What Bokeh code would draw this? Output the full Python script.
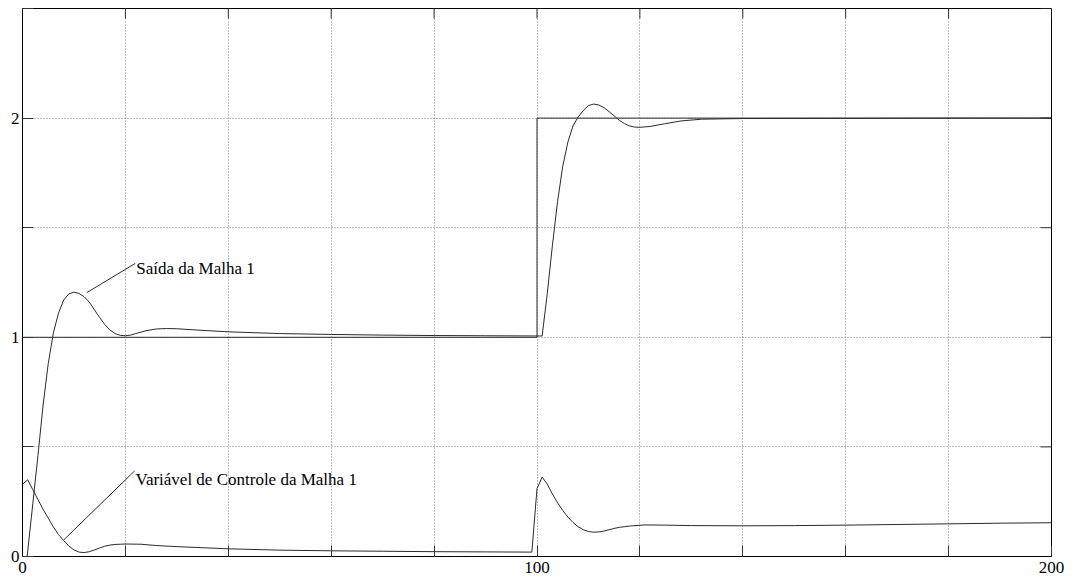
import math
from bokeh.plotting import figure
from bokeh.models import Range1d, FixedTicker
from bokeh.embed import file_html
from bokeh.resources import INLINE
from bokeh.core.properties import value

# ---------------- data ----------------
# Setpoint (reference) of loop 1
t_ref = [0, 100, 100, 200]
y_ref = [1, 1, 2, 2]

# Output of loop 1 ("Saída da Malha 1")
t_out = [0, 0.9, 2, 3, 4, 5, 6, 7, 8, 9, 10, 11, 12, 13, 14, 15, 16, 17, 18, 19, 20,
         21, 22, 24, 26, 28, 30, 34, 40, 50, 60, 70, 80, 90, 101,
         102, 103, 104, 105, 106, 107, 108, 109, 110, 111, 112, 113, 114, 115, 116,
         117, 118, 119, 120, 122, 125, 128, 132, 140, 160, 185, 200]
y_out = [0, 0, 0.24, 0.46, 0.69, 0.88, 1.02, 1.11, 1.17, 1.198, 1.206, 1.2, 1.185, 1.16,
         1.125, 1.09, 1.058, 1.033, 1.017, 1.009, 1.007,
         1.01, 1.017, 1.03, 1.038, 1.04, 1.039, 1.033, 1.025, 1.017, 1.013, 1.01, 1.008,
         1.007, 1.006,
         1.2, 1.42, 1.62, 1.78, 1.89, 1.965, 2.005, 2.035, 2.057, 2.064, 2.06, 2.048, 2.03,
         2.01, 1.99, 1.975, 1.964, 1.959, 1.958, 1.962, 1.975, 1.987, 1.995, 1.998,
         1.999, 2.0, 2.0]

# Control variable of loop 1 ("Variável de Controle da Malha 1")
t_ctl = [0, 1, 2, 3, 4, 5, 6, 7, 8, 9, 10, 11, 12, 13, 14, 15, 16, 17, 18, 20, 23, 26,
         30, 40, 50, 60, 70, 80, 90, 99,
         100, 101, 102, 103, 104, 105, 106, 107, 108, 109, 110, 111, 112, 113, 114, 115,
         116, 118, 121, 125, 130, 140, 150, 160, 170, 180, 190, 200]
y_ctl = [0.33, 0.35, 0.305, 0.26, 0.215, 0.175, 0.135, 0.1, 0.073, 0.048, 0.03, 0.02,
         0.018, 0.022, 0.03, 0.039, 0.047, 0.052, 0.055, 0.057, 0.056, 0.05,
         0.045, 0.035, 0.029, 0.026, 0.024, 0.022, 0.021, 0.02,
         0.31, 0.362, 0.33, 0.285, 0.245, 0.21, 0.18, 0.155, 0.136, 0.122, 0.114, 0.111,
         0.112, 0.116, 0.122, 0.128, 0.133, 0.139, 0.144, 0.143, 0.141, 0.14, 0.141,
         0.143, 0.146, 0.149, 0.152, 0.154]

# axis ticks and labels
x_ticks = [0, 20, 40, 60, 80, 100, 120, 140, 160, 180, 200]
x_labels = {0: "0", 100: "100", 200: "200"}
y_ticks = [0, 0.5, 1, 1.5, 2, 2.5]
y_labels = {0: "0", 1: "1", 2: "2"}

# annotations (text + pointer)
ann_text = ["Saída da Malha 1", "Variável de Controle da Malha 1"]
ann_x = [22.1, 21.96]
ann_y = [1.3125, 0.351]
ptr_x0 = [12.5, 8.03]
ptr_y0 = [1.204, 0.076]
ptr_x1 = [21.9, 21.77]
ptr_y1 = [1.337, 0.39]

X_MIN, X_MAX = 0, 200
Y_MIN, Y_MAX = 0, 2.5

# ---------------- figure ----------------
FONT = "Liberation Serif"
LINE = "#2a2a2a"
TICK = "#333333"

p = figure(frame_width=1029, frame_height=548,
           x_range=Range1d(X_MIN, X_MAX), y_range=Range1d(Y_MIN, Y_MAX),
           output_backend="svg", toolbar_location=None,
           min_border_left=22, min_border_right=19,
           min_border_top=8, min_border_bottom=20)
p.background_fill_color = "white"
p.border_fill_color = "white"
p.outline_line_color = "black"
p.outline_line_width = 1


def style_axis(ax, ticks, labels, tick_len, standoff):
    ax.ticker = FixedTicker(ticks=ticks)
    ax.major_tick_in = tick_len
    ax.major_tick_out = 0
    ax.major_tick_line_color = TICK
    ax.minor_tick_line_color = None
    ax.axis_line_color = "black"
    ax.major_label_overrides = {t: labels.get(t, "") for t in ticks}
    ax.major_label_text_font = FONT
    ax.major_label_text_color = "black"
    ax.major_label_text_font_size = "17px"
    ax.major_label_standoff = standoff


style_axis(p.xaxis[0], x_ticks, x_labels, 11, 5)
style_axis(p.yaxis[0], y_ticks, y_labels, 11, 3)

for g in (p.xgrid[0], p.ygrid[0]):
    g.grid_line_color = "#808080"
    g.grid_line_dash = "1 2"
    g.grid_line_width = 1
p.xgrid[0].ticker = FixedTicker(ticks=x_ticks)
p.ygrid[0].ticker = FixedTicker(ticks=y_ticks)

# inward ticks on the top and right edges of the frame
p.ray(x=x_ticks, y=[Y_MAX] * len(x_ticks), length=10, length_units="screen",
      angle=-math.pi / 2, line_color=TICK, line_width=1)
p.ray(x=[X_MAX] * len(y_ticks), y=y_ticks, length=11, length_units="screen",
      angle=math.pi, line_color=TICK, line_width=1)

# ---------------- data lines ----------------
p.line(t_ref, y_ref, line_color=LINE, line_width=1)
p.line(t_out, y_out, line_color=LINE, line_width=1)
p.line(t_ctl, y_ctl, line_color=LINE, line_width=1)

# ---------------- annotations ----------------
p.segment(x0=ptr_x0, y0=ptr_y0, x1=ptr_x1, y1=ptr_y1, line_color=LINE, line_width=1)
p.text(x=ann_x, y=ann_y, text=ann_text, text_font=value(FONT),
       text_font_size="17px", text_color="black",
       text_align="left", text_baseline="alphabetic")

open("out.html", "w").write(file_html(p, INLINE))
